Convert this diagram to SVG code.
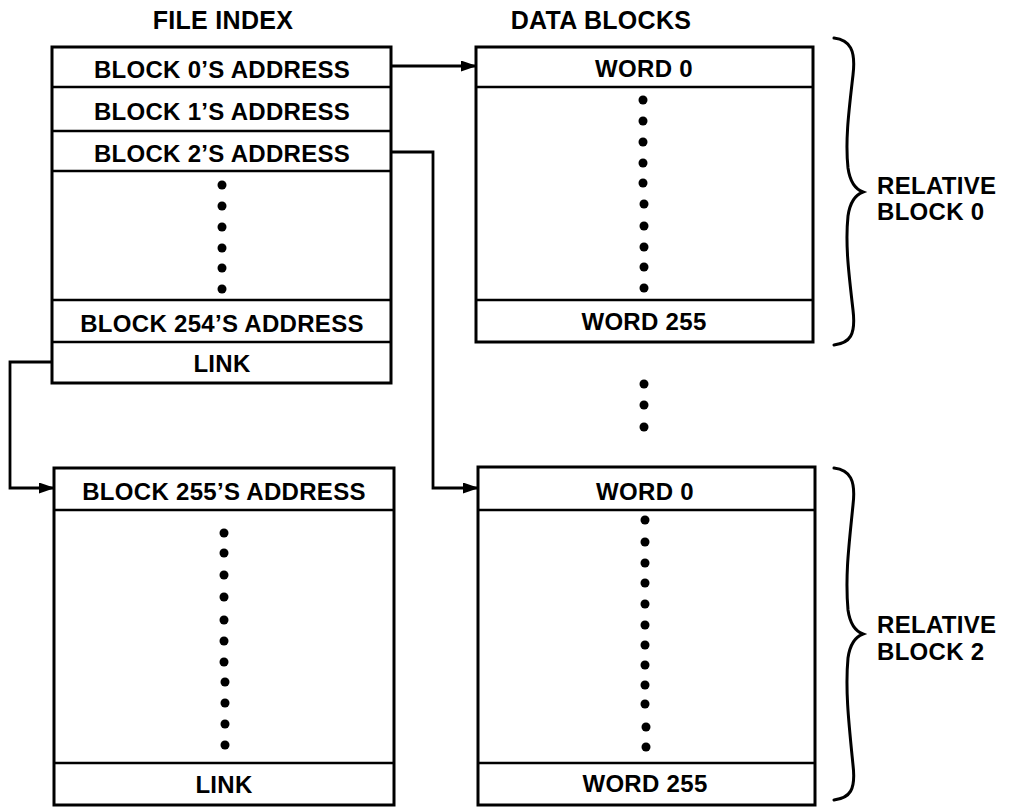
<svg xmlns="http://www.w3.org/2000/svg" width="1011" height="808" viewBox="0 0 1011 808">
<style>
.box{fill:#fff;stroke:#000;stroke-width:3}
.div{stroke:#000;stroke-width:2.5}
.t{font-family:"Liberation Sans",Arial,sans-serif;font-weight:bold;font-size:24px;letter-spacing:0.3px;fill:#000}
.h{font-size:25px}
.c{text-anchor:middle}
.con{fill:none;stroke:#000;stroke-width:2.8}
.br{fill:none;stroke:#000;stroke-width:3;stroke-linecap:round}
</style>
<defs>
<marker id="ah" viewBox="0 0 16 11" refX="15" refY="5.5" markerWidth="16" markerHeight="11" markerUnits="userSpaceOnUse" orient="auto">
<path d="M0,0 L16,5.5 L0,11 Z" fill="#000"/>
</marker>
</defs>
<rect width="1011" height="808" fill="#fff"/>
<text class="t h c" x="223" y="29">FILE INDEX</text>
<text class="t h c" x="601" y="29">DATA BLOCKS</text>

<g id="file-index-1">
<rect class="box" x="52" y="47" width="339" height="336"/>
<line class="div" x1="52" y1="87" x2="391" y2="87"/>
<line class="div" x1="52" y1="131" x2="391" y2="131"/>
<line class="div" x1="52" y1="171" x2="391" y2="171"/>
<line class="div" x1="52" y1="300" x2="391" y2="300"/>
<line class="div" x1="52" y1="342" x2="391" y2="342"/>
<text class="t c" x="222" y="78">BLOCK 0’S ADDRESS</text>
<text class="t c" x="222" y="120">BLOCK 1’S ADDRESS</text>
<text class="t c" x="222" y="162">BLOCK 2’S ADDRESS</text>
<text class="t c" x="222" y="332">BLOCK 254’S ADDRESS</text>
<text class="t c" x="222" y="372">LINK</text>
<g fill="#000">
<circle cx="222" cy="185" r="4.5"/><circle cx="222" cy="206" r="4.5"/><circle cx="222" cy="227" r="4.5"/>
<circle cx="222" cy="248" r="4.5"/><circle cx="222" cy="268" r="4.5"/><circle cx="222" cy="289" r="4.5"/>
</g>
</g>

<g id="file-index-2">
<rect class="box" x="54" y="468" width="340" height="337"/>
<line class="div" x1="54" y1="510" x2="394" y2="510"/>
<line class="div" x1="54" y1="763" x2="394" y2="763"/>
<text class="t c" x="224" y="500">BLOCK 255’S ADDRESS</text>
<text class="t c" x="224" y="793">LINK</text>
<g fill="#000">
<circle cx="224" cy="533" r="4.5"/><circle cx="224" cy="553" r="4.5"/><circle cx="224" cy="575" r="4.5"/>
<circle cx="224" cy="597" r="4.5"/><circle cx="224" cy="620" r="4.5"/><circle cx="224" cy="641" r="4.5"/>
<circle cx="224" cy="662" r="4.5"/><circle cx="225" cy="682" r="4.5"/><circle cx="225" cy="703" r="4.5"/>
<circle cx="225" cy="724" r="4.5"/><circle cx="225" cy="745" r="4.5"/>
</g>
</g>

<g id="data-block-0">
<rect class="box" x="476" y="47" width="337" height="295"/>
<line class="div" x1="476" y1="87" x2="813" y2="87"/>
<line class="div" x1="476" y1="300" x2="813" y2="300"/>
<text class="t c" x="644" y="77">WORD 0</text>
<text class="t c" x="644" y="330">WORD 255</text>
<g fill="#000">
<circle cx="643" cy="100" r="4.5"/><circle cx="643" cy="121" r="4.5"/><circle cx="643" cy="142" r="4.5"/>
<circle cx="643" cy="163" r="4.5"/><circle cx="643" cy="183" r="4.5"/><circle cx="644" cy="204" r="4.5"/>
<circle cx="644" cy="226" r="4.5"/><circle cx="644" cy="247" r="4.5"/><circle cx="644" cy="267" r="4.5"/>
<circle cx="644" cy="288" r="4.5"/>
</g>
</g>

<g id="gap-dots" fill="#000">
<circle cx="644" cy="384" r="4.5"/><circle cx="644" cy="405" r="4.5"/><circle cx="644" cy="427" r="4.5"/>
</g>

<g id="data-block-2">
<rect class="box" x="478" y="467" width="337" height="338"/>
<line class="div" x1="478" y1="510" x2="815" y2="510"/>
<line class="div" x1="478" y1="763" x2="815" y2="763"/>
<text class="t c" x="645" y="500">WORD 0</text>
<text class="t c" x="645" y="792">WORD 255</text>
<g fill="#000">
<circle cx="645" cy="520" r="4.5"/><circle cx="645" cy="542" r="4.5"/><circle cx="645" cy="563" r="4.5"/>
<circle cx="645" cy="583" r="4.5"/><circle cx="645" cy="604" r="4.5"/><circle cx="645" cy="625" r="4.5"/>
<circle cx="645" cy="645" r="4.5"/><circle cx="645" cy="665" r="4.5"/><circle cx="645" cy="685" r="4.5"/>
<circle cx="645" cy="704" r="4.5"/><circle cx="646" cy="727" r="4.5"/><circle cx="646" cy="747" r="4.5"/>
</g>
</g>

<g id="brace-0">
<path class="br" d="M834,38 C850,40 856,50 853,75 C849,110 845,140 848,168 C850,182 855,189 863,192 C855,195 850,202 848,216 C845,245 849,275 853,310 C856,335 850,343 834,345"/>
<text class="t" x="877" y="194">RELATIVE</text>
<text class="t" x="877" y="220">BLOCK 0</text>
</g>

<g id="brace-2">
<path class="br" d="M834,468 C850,470 856,480 853,505 C849,545 845,575 848,610 C850,624 855,631 863,634 C855,637 850,644 848,658 C845,690 849,725 853,765 C856,790 850,798 834,800"/>
<text class="t" x="877" y="633">RELATIVE</text>
<text class="t" x="877" y="660">BLOCK 2</text>
</g>

<g id="connectors">
<path class="con" d="M391,66 L476,66" marker-end="url(#ah)"/>
<path class="con" d="M391,152 L433,152 L433,488 L478,488" marker-end="url(#ah)"/>
<path class="con" d="M52,362 L10,362 L10,488 L54,488" marker-end="url(#ah)"/>
</g>
</svg>
